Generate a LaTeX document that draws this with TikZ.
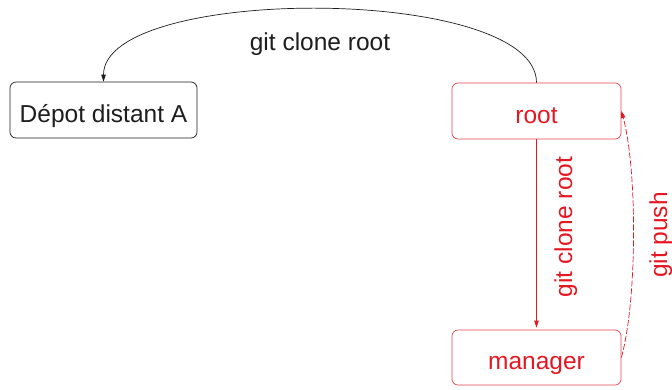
\documentclass[tikz,border=0pt]{standalone}
\usepackage{fontspec}
\setmainfont{Liberation Sans}
\usetikzlibrary{arrows.meta}
\definecolor{gred}{RGB}{228,24,34}
\definecolor{gredline}{RGB}{232,70,80}
\definecolor{gblack}{RGB}{30,30,30}
\begin{document}
\begin{tikzpicture}[x=1pt,y=-1pt,
  lbl/.style={font=\fontsize{24.5}{29}\selectfont, inner sep=0pt},
  repo/.style={lbl, rounded corners=6pt, line width=0.7pt, text height=24pt, text depth=0pt},
  tip/.style={-{Triangle[length=7pt,width=4.5pt]}},
  blackarr/.style={tip, draw=gblack, line width=0.7pt},
  redarr/.style={tip, draw=gred, line width=0.7pt}
]
\useasboundingbox[fill=white] (0,0) rectangle (672,389);
\node[repo, draw=gblack, text=gblack, minimum width=187pt, minimum height=56pt] (depot) at (103.5,110) {Dépot distant A};
\node[repo, draw=gredline, text=gred, minimum width=169pt, minimum height=56pt] (root) at (536.5,111) {root};
\node[repo, draw=gredline, text=gred, minimum width=169pt, minimum height=55pt] (manager) at (536.5,357.5) {manager};
% top arc
\draw[blackarr] (root.north) .. controls +(0,-98) and +(0,-97) .. (depot.north);
\node[lbl, anchor=base, text=gblack] (lclone) at (320,50) {git clone root};
% down arrow
\draw[redarr, shorten >=2pt] (root.south) -- (manager.north);
\node[lbl, anchor=base, rotate=90, text=gred] (lclone2) at (572,227) {git clone root};
% git push
\draw[redarr, dash pattern=on 6pt off 2pt] (manager.east) .. controls +(16,-57) and +(16,58) .. (root.east);
\node[lbl, anchor=base, rotate=90, text=gred] (lpush) at (667,235) {git push};
\end{tikzpicture}
\end{document}
